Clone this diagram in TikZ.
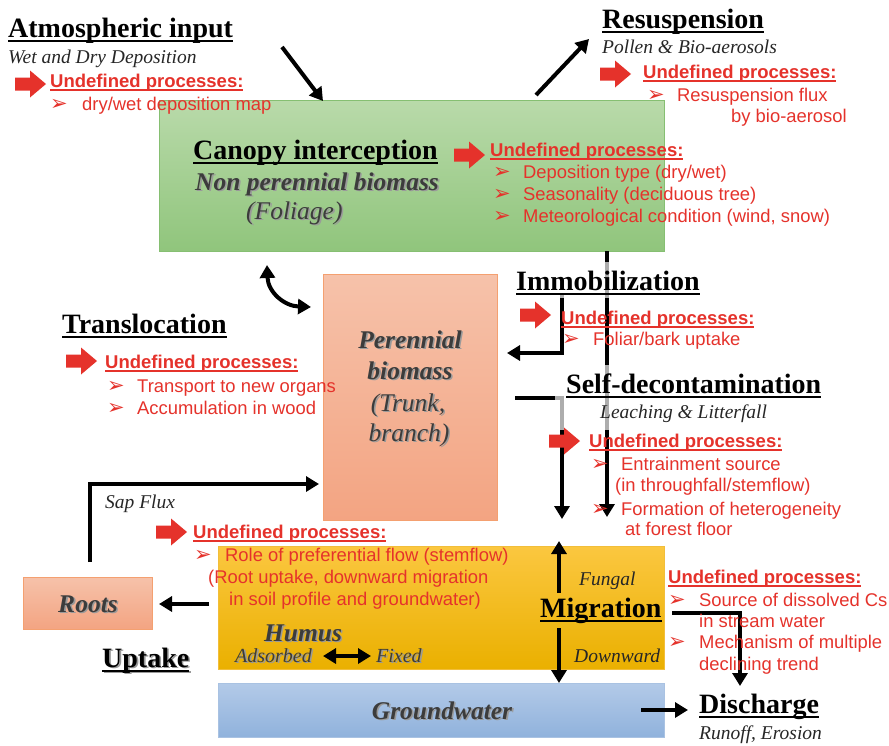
\documentclass[tikz,border=0pt]{standalone}
\usepackage{fontspec}
\setmainfont{Liberation Serif}
\setsansfont{Liberation Sans}
\newfontfamily\bulfont{DejaVu Sans}
\usetikzlibrary{arrows.meta}

\definecolor{redc}{HTML}{E5322B}
\definecolor{txtgray}{HTML}{3C3C3C}
\definecolor{shade}{HTML}{9A9A9A}
\definecolor{gtop}{HTML}{B9DAAA}
\definecolor{gbot}{HTML}{90C57C}
\definecolor{gline}{HTML}{86BF72}
\definecolor{otop}{HTML}{F6C2AA}
\definecolor{obot}{HTML}{F3A482}
\definecolor{oline}{HTML}{F4A070}
\definecolor{ytop}{HTML}{FBC740}
\definecolor{ybot}{HTML}{EAB000}
\definecolor{yline}{HTML}{F2BE3A}
\definecolor{btop}{HTML}{B3CAE8}
\definecolor{bbot}{HTML}{90B2DC}
\definecolor{bline}{HTML}{A9C2E2}

% underlines at a fixed depth below the baseline
\newcommand\hul[1]{\setbox0=\hbox{#1}\rlap{\rule[-4.5pt]{\wd0}{2pt}}\box0}
\newcommand\rul[1]{\setbox0=\hbox{#1}\rlap{\rule[-3.6pt]{\wd0}{1.4pt}}\box0}
% list bullet followed by a fixed gap
\newcommand\bul[1]{\makebox[#1pt][l]{\raisebox{-0.5pt}{\bulfont\fontsize{21}{21}\selectfont ➢}}}
% text with a soft grey drop shadow
\newcommand\shnode[4]{%
  \node[#2, text=shade, xshift=1.6pt, yshift=-1.6pt] at (#3) {#4};
  \node[#2] (#1) at (#3) {#4};}

\tikzset{
  head/.style={font=\fontsize{28}{30}\selectfont\bfseries, inner sep=0, anchor=base west},
  sub/.style={font=\fontsize{19.5}{22}\selectfont\itshape, text=black!85, inner sep=0, anchor=base west},
  undef/.style={font=\fontsize{18.5}{20}\selectfont\sffamily\bfseries, text=redc, inner sep=0, anchor=base west},
  item/.style={font=\fontsize{18.4}{20}\selectfont\sffamily, text=redc, inner sep=0, anchor=base west},
  bio/.style={font=\fontsize{25.5}{28}\selectfont\bfseries\itshape, text=txtgray, inner sep=0, anchor=base},
  bioreg/.style={font=\fontsize{25.5}{28}\selectfont\itshape, text=txtgray, inner sep=0, anchor=base},
  soil/.style={font=\fontsize{20}{22}\selectfont\itshape, text=txtgray, inner sep=0, anchor=base west},
  flow/.style={line width=4pt, -{Triangle[length=13pt,width=15pt]}},
  flowtwo/.style={line width=4pt, {Triangle[length=13pt,width=15pt]}-{Triangle[length=13pt,width=15pt]}},
  veil/.style={fill=white, fill opacity=0.68, draw=none},
  redarrow/.pic={\fill[redc] (0,-6.5) -- (15,-6.5) -- (15,-13.5) -- (31,0) -- (15,13.5) -- (15,6.5) -- (0,6.5) -- cycle;}
}

\begin{document}
\begin{tikzpicture}[x=1pt,y=-1pt]
\useasboundingbox (0,0) rectangle (889,745);
\fill[white] (0,0) rectangle (889,745);

% compartments
\draw[gline, top color=gtop, bottom color=gbot] (159,100) rectangle (664,251);
\draw[oline, top color=otop, bottom color=obot] (323,274) rectangle (497,520);
\draw[oline, top color=otop, bottom color=obot] (23,577) rectangle (152,629);
\draw[yline, top color=ytop, bottom color=ybot] (218,546) rectangle (664,669);
\draw[bline, top color=btop, bottom color=bbot] (218,683) rectangle (664,737);

% end points of the fluxes
\coordinate (atmA) at (282,47);   \coordinate (atmB) at (323,101);
\coordinate (resA) at (536,95);   \coordinate (resB) at (589,39);
\coordinate (trA) at (267,265);   \coordinate (trB) at (311,307);
\coordinate (imA) at (562,295);   \coordinate (imB) at (507,353);
\coordinate (leA) at (515,398);   \coordinate (leB) at (562,519);
\coordinate (thA) at (607,251);   \coordinate (thB) at (607,517);
\coordinate (spA) at (90,562);    \coordinate (spB) at (319,484);
\coordinate (upA) at (209,604);   \coordinate (upB) at (159,604);
\coordinate (adA) at (323,656);   \coordinate (adB) at (371,656);
\coordinate (fuA) at (559,593);   \coordinate (fuB) at (559,541);
\coordinate (dwA) at (559,628);   \coordinate (dwB) at (559,683);
\coordinate (gwA) at (641,710);   \coordinate (gwB) at (688,710);
\coordinate (dsA) at (672,613);   \coordinate (dsB) at (740,686);

\draw[flow] (atmA) -- (atmB);
\draw[flow] (resA) -- (resB);
\draw[flowtwo] (trA) .. controls (268,292) and (284,306) .. (trB);
\draw[flow] (imA) |- (imB);
\draw[flow] (leA) -| (leB);
\draw[flow] (thA) -- (thB);
\draw[flow] (spA) |- (spB);
\draw[flow] (upA) -- (upB);
\draw[flowtwo] (adA) -- (adB);
\draw[flow, line width=3.5pt] (fuA) -- (fuB);
\draw[flow, line width=3.5pt] (dwA) -- (dwB);
\draw[flow] (gwA) -- (gwB);
\draw[flow] (dsA) -| (dsB);

% translucent label backgrounds
\fill[veil] (505,262) rectangle (703,298);
\fill[veil] (555,365) rectangle (835,430);

% atmospheric input
\node[head] (atm) at (8,37) {\hul{Atmospheric input}};
\node[sub] (atmsub) at (8,63) {Wet and Dry Deposition};
\pic at (15,84) {redarrow};
\node[undef] (atmu) at (50,87) {\rul{Undefined processes:}};
\node[item] (atm1) at (50,110) {\bul{32}dry/wet deposition map};

% resuspension
\node[head] (res) at (602,28) {\hul{Resuspension}};
\node[sub] (ressub) at (602,53) {Pollen \& Bio-aerosols};
\pic at (600,74) {redarrow};
\node[undef] (resu) at (643,78) {\rul{Undefined processes:}};
\node[item] (res1) at (647,101) {\bul{30}Resuspension flux};
\node[item] (res2) at (731,122) {by bio-aerosol};

% canopy
\node[head] (can) at (193,159) {\hul{Canopy interception}};
\shnode{npb}{bio, anchor=base west}{195,190}{Non perennial biomass}
\shnode{fol}{bioreg, anchor=base west}{246,219}{(Foliage)}
\pic at (454,155) {redarrow};
\node[undef] (canu) at (490,156) {\rul{Undefined processes:}};
\node[item] (can1) at (493,178) {\bul{30}Deposition type (dry/wet)};
\node[item] (can2) at (493,200) {\bul{30}Seasonality (deciduous tree)};
\node[item] (can3) at (493,222) {\bul{30}Meteorological condition (wind, snow)};

% perennial biomass
\shnode{per1}{bio}{410,348}{Perennial}
\shnode{per2}{bio}{410,379}{biomass}
\shnode{per3}{bioreg}{408,411}{(Trunk,}
\shnode{per4}{bioreg}{409,441}{branch)}

% translocation
\node[head] (trl) at (62,333) {\hul{Translocation}};
\pic at (66,361) {redarrow};
\node[undef] (trlu) at (105,368) {\rul{Undefined processes:}};
\node[item] (trl1) at (107,392) {\bul{30}Transport to new organs};
\node[item] (trl2) at (107,414) {\bul{30}Accumulation in wood};

% immobilization
\node[head] (imm) at (516,290) {\hul{Immobilization}};
\pic at (520,315) {redarrow};
\node[undef] (immu) at (561,324) {\rul{Undefined processes:}};
\node[item] (imm1) at (562,345) {\bul{31}Foliar/bark uptake};

% self-decontamination
\node[head] (sd) at (566,393) {\hul{Self-decontamination}};
\node[sub] (sdsub) at (600,418) {Leaching \& Litterfall};
\pic at (549,441) {redarrow};
\node[undef] (sdu) at (589,447) {\rul{Undefined processes:}};
\node[item] (sd1) at (591,470) {\bul{30}Entrainment source};
\node[item] (sd2) at (615,491) {(in throughfall/stemflow)};
\node[item] (sd3) at (591,515) {\bul{30}Formation of heterogeneity};
\node[item] (sd4) at (625,535) {at forest floor};

% sap flux and soil
\node[sub] (sap) at (105,508) {Sap Flux};
\pic at (156,532) {redarrow};
\node[undef] (soilu) at (193,538) {\rul{Undefined processes:}};
\node[item] (soil1) at (194,561) {\bul{31}Role of preferential flow (stemflow)};
\node[item] (soil2) at (208,583) {(Root uptake, downward migration};
\node[item] (soil3) at (229,605) {in soil profile and groundwater)};

\shnode{roots}{bio}{88,612}{Roots}
\shnode{upt}{head}{102,667}{\hul{Uptake}}
\shnode{hum}{bio}{303,641}{Humus}
\shnode{ads}{soil}{235,662}{Adsorbed}
\shnode{fix}{soil}{376,662}{Fixed}
\shnode{gw}{bio}{442,719}{Groundwater}

% migration
\node[sub] (fun) at (579,585) {Fungal};
\node[head] (mig) at (540,617) {\hul{Migration}};
\node[sub] (dwn) at (574,662) {Downward};

% discharge
\node[undef] (disu) at (668,583) {\rul{Undefined processes:}};
\node[item] (dis1) at (668,606) {\bul{31}Source of dissolved Cs};
\node[item] (dis2) at (699,627) {in stream water};
\node[item] (dis3) at (668,648) {\bul{31}Mechanism of multiple};
\node[item] (dis4) at (699,670) {declining trend};
\node[head] (dis) at (699,713) {\hul{Discharge}};
\node[sub] (dissub) at (699,739) {Runoff, Erosion};
\end{tikzpicture}
\end{document}
